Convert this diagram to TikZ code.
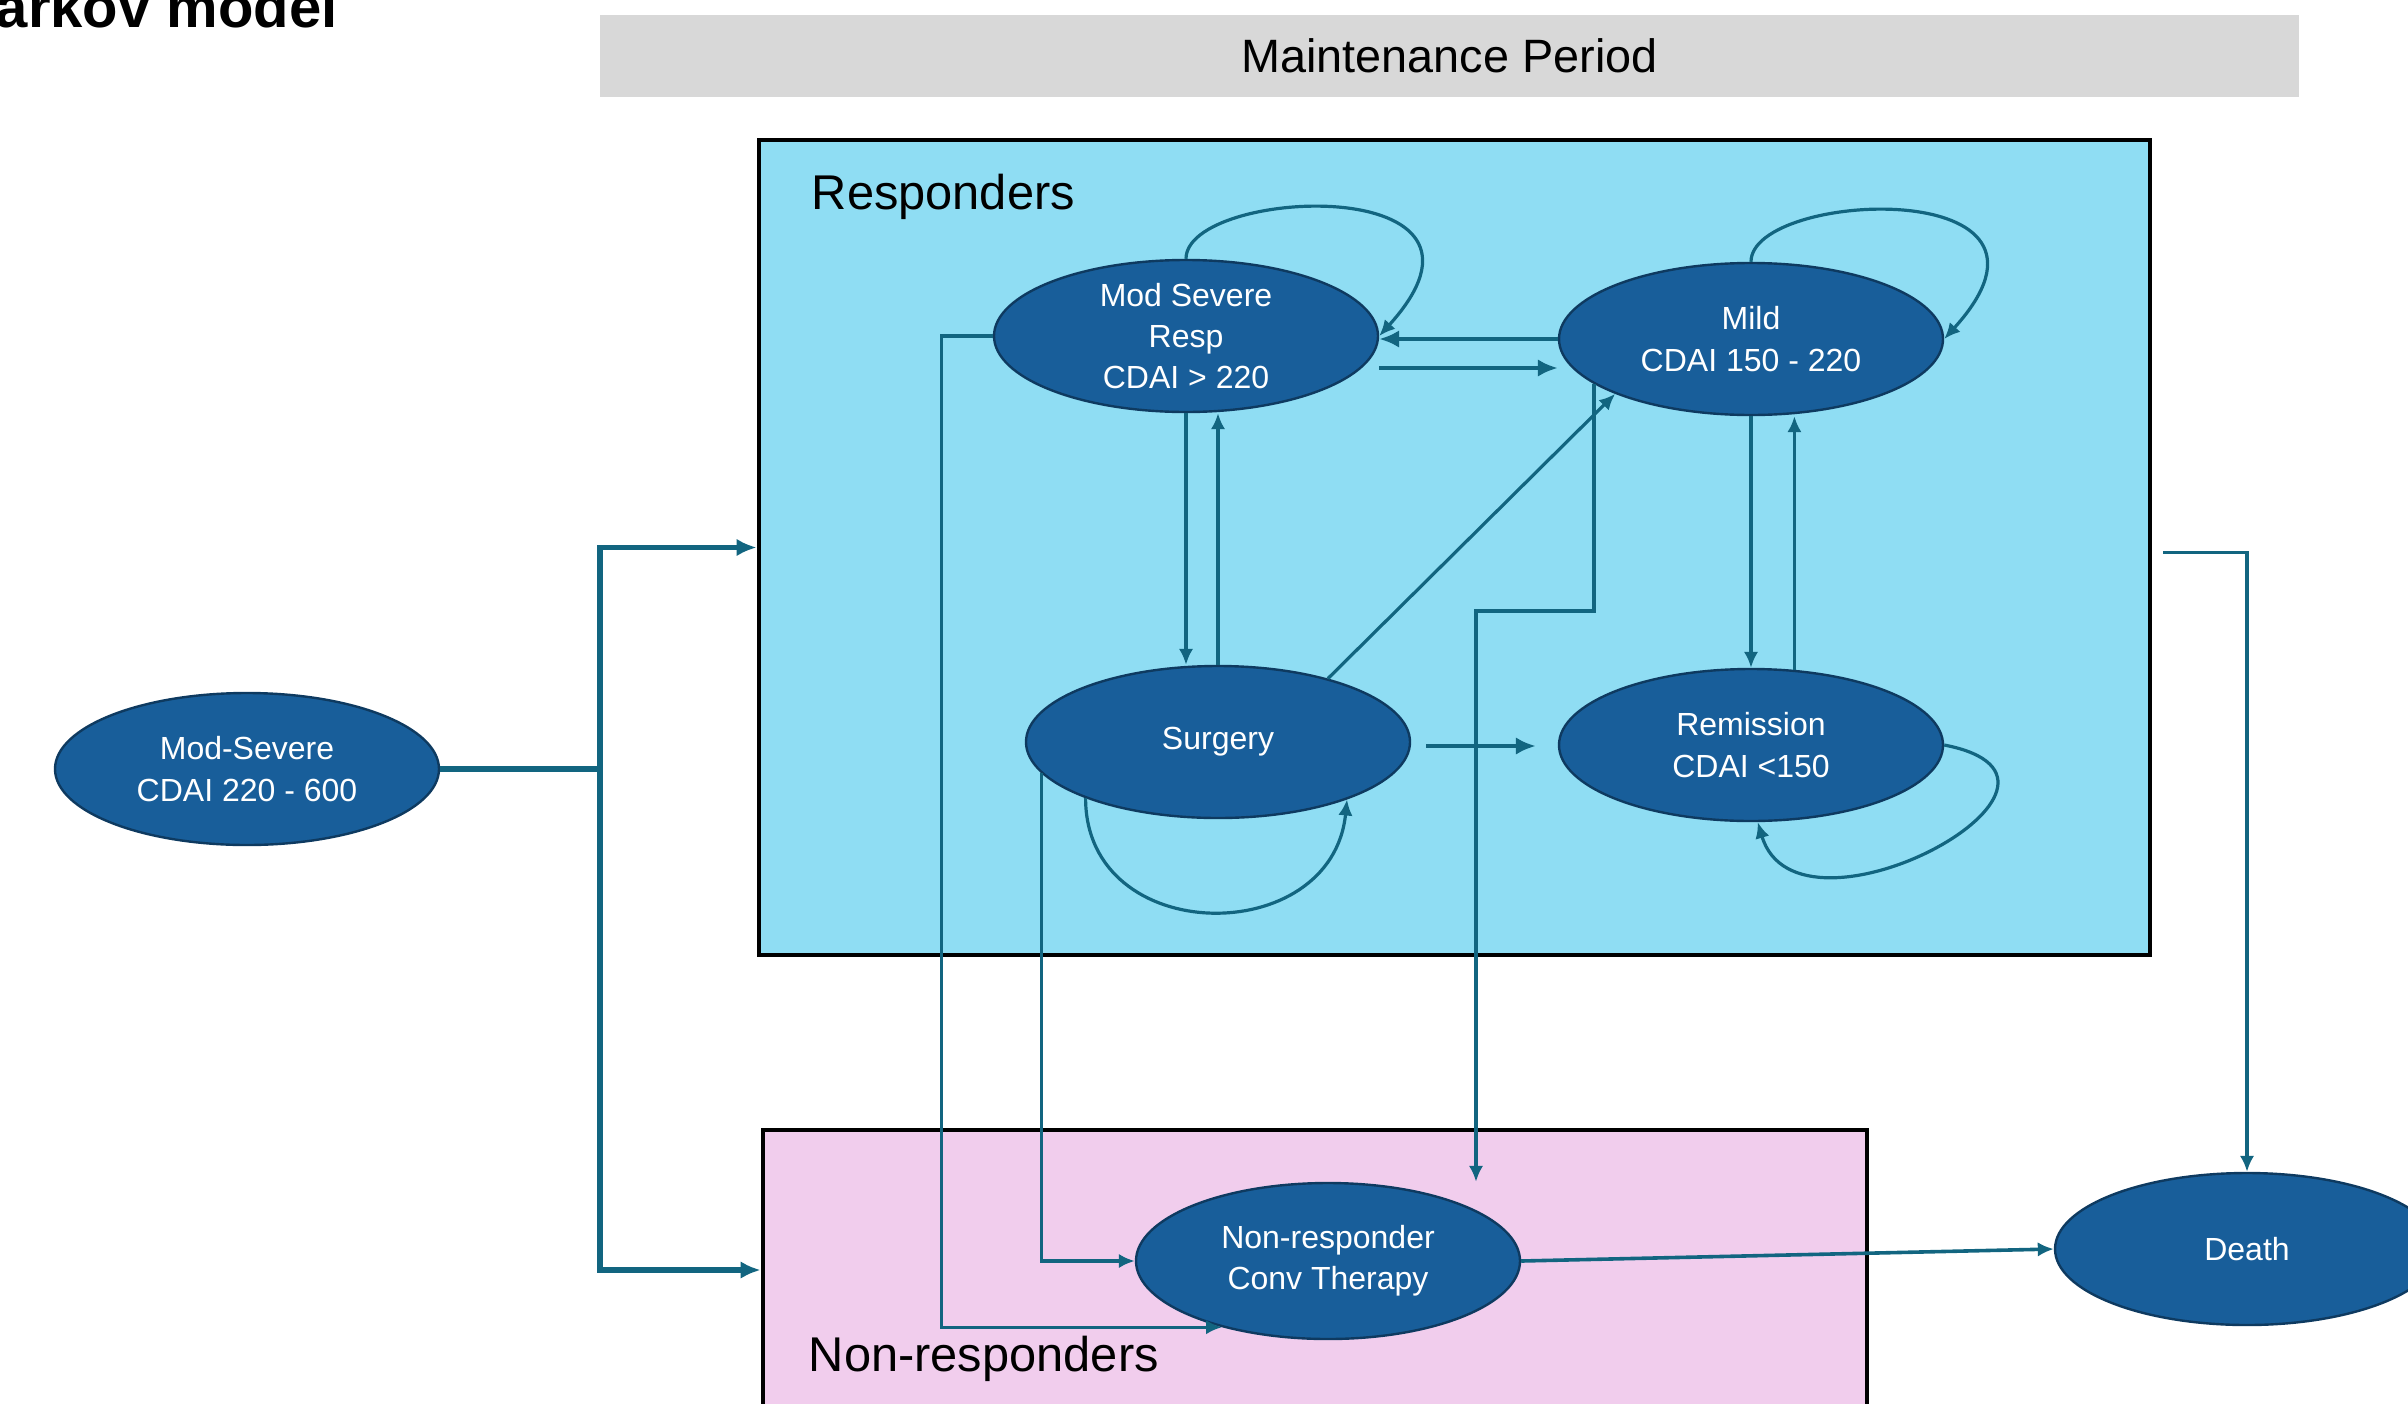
\documentclass[tikz,border=0pt]{standalone}
\usepackage{fontspec}
\setmainfont{Liberation Sans}
\usetikzlibrary{shapes.geometric,arrows.meta,calc}

\definecolor{respfill}{RGB}{143,221,243}
\definecolor{nonrespfill}{RGB}{241,205,237}
\definecolor{periodgrey}{RGB}{216,216,216}
\definecolor{statefill}{RGB}{24,94,154}
\definecolor{stateline}{RGB}{14,58,96}
\definecolor{flowteal}{RGB}{18,101,128}

\begin{document}
\begin{tikzpicture}[x=0.25pt,y=0.25pt,yscale=-1,xscale=1,
  state/.style={ellipse,draw=stateline,line width=0.6pt,fill=statefill,text=white,
    minimum width=96pt,minimum height=38pt,inner sep=0pt,align=center,
    font=\fontsize{8}{10.3}\selectfont},
  panel/.style={rectangle,draw=black,line width=1.2pt,inner sep=0pt},
  flow/.style={draw=flowteal,line width=0.8pt,-{Latex[length=4pt,width=3.6pt]}},
  heavyflow/.style={flow,line width=1.1pt,-{Latex[length=5pt,width=4.4pt]}},
  boxlabel/.style={anchor=west,inner sep=0pt,font=\fontsize{12.2}{14}\selectfont}]
\useasboundingbox (0,0) rectangle (2408,1403);
\clip (0,0) rectangle (2408,1403);

% Text Node
\node (title) [anchor=base west,inner sep=0pt,font=\fontsize{14.5}{17}\selectfont\bfseries] at (-5,27) {arkov model};

%Shape: Rectangle
\node (period) [rectangle,fill=periodgrey,minimum width=424.75pt,minimum height=20.5pt,inner sep=0pt,font=\fontsize{11.7}{14}\selectfont] at (1449.5,56) {Maintenance Period};
%Shape: Rectangle
\node (resp) [panel,fill=respfill,minimum width=347.75pt,minimum height=203.75pt] at (1454.5,547.5) {};
%Shape: Rectangle
\node (nonresp) [panel,fill=nonrespfill,minimum width=276pt,minimum height=70pt] at (1315,1270) {};

% Text Node
\node (resplabel) [boxlabel] at (811,197) {Responders};
% Text Node
\node (nonresplabel) [boxlabel] at (808,1359) {Non-responders};

%Shape: Ellipse
\node (modsev) [state] at (247,769) {Mod-Severe\\CDAI 220 - 600};
%Shape: Ellipse
\node (msr) [state] at (1186,336) {Mod Severe\\Resp\\CDAI > 220};
%Shape: Ellipse
\node (mild) [state] at (1751,339) {Mild\\CDAI 150 - 220};
%Shape: Ellipse
\node (surg) [state] at (1218,742) {Surgery};
%Shape: Ellipse
\node (rem) [state] at (1751,745) {Remission\\CDAI <150};
%Shape: Ellipse
\node (nr) [state,minimum height=39pt] at (1328,1261) {Non-responder\\Conv Therapy};
%Shape: Ellipse
\node (death) [state] at (2247,1249) {Death};

%Straight Lines
\coordinate (split) at (600,769);
\draw [heavyflow,-,line width=1.3pt] (modsev.east) -- (split);
\draw [heavyflow,line width=1.3pt] (split) |- (resp.west);
\draw [heavyflow,line width=1.3pt] (split) |- (nonresp.west);

%Straight Lines
\draw [heavyflow,line width=1pt] (mild.west) -- (mild.west -| msr.east);
\draw [heavyflow,line width=1pt] ($(msr.east)+(0,32)$) -- ($(mild.west)+(0,29)$);
\draw [flow] (msr.south) -- (msr.south |- surg.north);
\draw [flow] (surg.north) -- (surg.north |- msr.south);
\draw [flow] (mild.south) -- (mild.south |- rem.north);
\draw [flow] (rem.60) -- (rem.60 |- mild.south);
\draw [flow] (surg.30) -- (mild.202);
\draw [heavyflow] ($(surg.east)+(15,4)$) -- ($(rem.west)+(-22,1)$);

%Curve Lines
\draw [flow] (msr.north) .. controls +(0,-72) and +(150,-165) .. (msr.east);
\draw [flow] (mild.north) .. controls +(0,-72) and +(150,-165) .. (mild.east);
\draw [flow] (surg.203) .. controls +(0,150) and +(-15,150) .. (surg.336);
\draw [flow] (rem.east) .. controls +(180,35) and +(40,135) .. (rem.275);

%Straight Lines
\draw [flow] (msr.west) -- ++(-51,0) |- (nr.212);
\coordinate (mildjog) at (1476,611);
\draw [flow] (mild.196) |- (mildjog) -- (mildjog |- nr.north);
\draw [flow] (surg.190) |- (nr.west);

%Straight Lines
\draw [flow,line width=0.9pt] (nr.east) -- (death.west);
\draw [flow] ($(resp.east)+(11,5)$) -| (death.north);

\end{tikzpicture}
\end{document}
